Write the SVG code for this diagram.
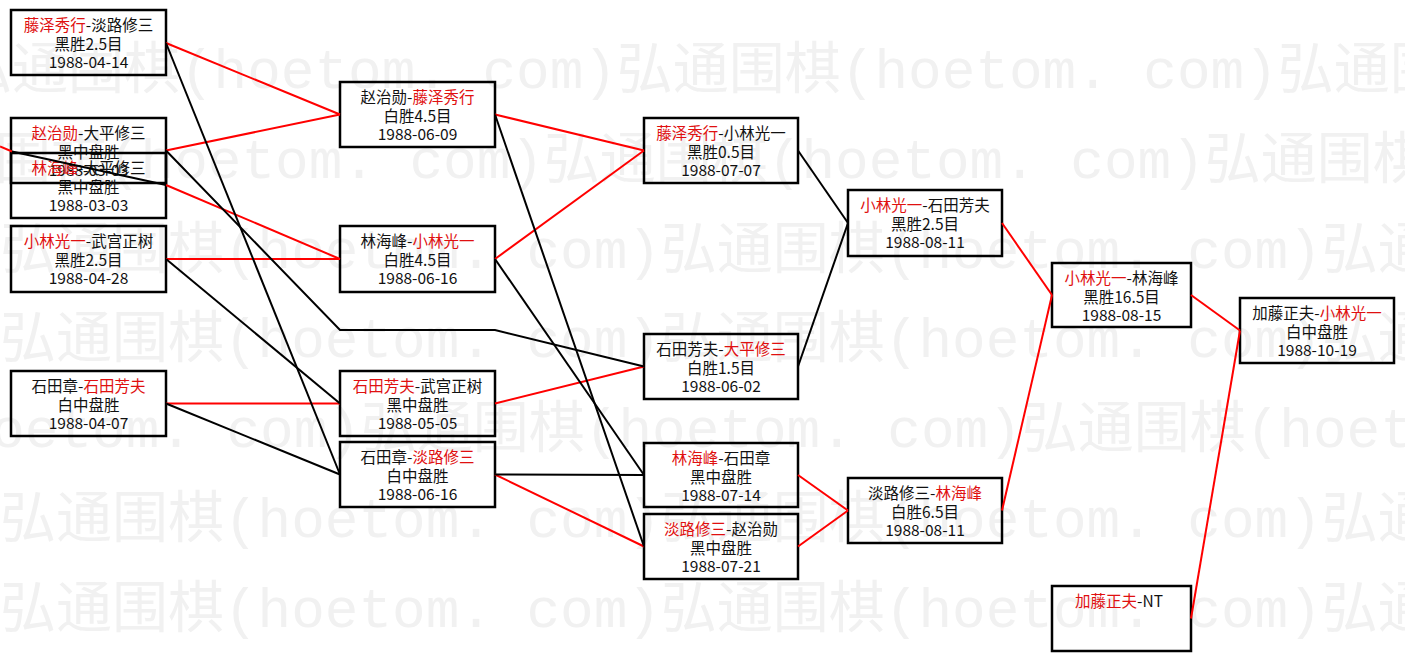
<svg xmlns="http://www.w3.org/2000/svg" width="1405" height="661" viewBox="0 0 1405 661">
<style>
.wm{font-family:"Liberation Mono","Noto Sans CJK SC",monospace;font-size:56px;fill:#f1f1f1}
.box{fill:none;stroke:#000;stroke-width:2.5}
.t{font-family:"Noto Sans CJK SC","Noto Sans",sans-serif;font-size:15.5px;fill:#111;text-anchor:middle}
.r{fill:#e01010}
.cr{fill:none;stroke:#ff0000;stroke-width:2}
.cb{fill:none;stroke:#000;stroke-width:2}
</style>
<rect x="0" y="0" width="1405" height="661" fill="#fff"/>
<g id="watermark">
<text class="wm" x="-44" y="88">弘通围棋(hoetom. com)弘通围棋(hoetom. com)弘通围棋(hoetom. com)</text>
<text class="wm" x="-117" y="178">弘通围棋(hoetom. com)弘通围棋(hoetom. com)弘通围棋(hoetom. com)</text>
<text class="wm" x="0" y="268">弘通围棋(hoetom. com)弘通围棋(hoetom. com)弘通围棋(hoetom. com)</text>
<text class="wm" x="0" y="357">弘通围棋(hoetom. com)弘通围棋(hoetom. com)弘通围棋(hoetom. com)</text>
<text class="wm" x="-300" y="447">弘通围棋(hoetom. com)弘通围棋(hoetom. com)弘通围棋(hoetom. com)</text>
<text class="wm" x="0" y="537">弘通围棋(hoetom. com)弘通围棋(hoetom. com)弘通围棋(hoetom. com)</text>
<text class="wm" x="0" y="627">弘通围棋(hoetom. com)弘通围棋(hoetom. com)弘通围棋(hoetom. com)</text>
</g>
<g id="nodeA"><rect class="box" x="11" y="10" width="155" height="65"/>
<text class="t" x="88.5" y="31"><tspan class="r">藤泽秀行</tspan>-淡路修三</text>
<text class="t" x="88.5" y="50">黑胜2.5目</text>
<text class="t" x="88.5" y="68">1988-04-14</text></g>
<g id="nodeB"><rect class="box" x="11" y="118" width="155" height="65"/>
<text class="t" x="88.5" y="139"><tspan class="r">赵治勋</tspan>-大平修三</text>
<text class="t" x="88.5" y="158">黑中盘胜</text>
<text class="t" x="88.5" y="176">1988-03-03</text></g>
<g id="nodeC"><rect class="box" x="11" y="153" width="155" height="65"/>
<text class="t" x="88.5" y="174"><tspan class="r">林海峰</tspan>-大平修三</text>
<text class="t" x="88.5" y="193">黑中盘胜</text>
<text class="t" x="88.5" y="211">1988-03-03</text></g>
<g id="nodeD"><rect class="box" x="11" y="226" width="155" height="66"/>
<text class="t" x="88.5" y="247"><tspan class="r">小林光一</tspan>-武宫正树</text>
<text class="t" x="88.5" y="266">黑胜2.5目</text>
<text class="t" x="88.5" y="284">1988-04-28</text></g>
<g id="nodeE"><rect class="box" x="11" y="371" width="155" height="65"/>
<text class="t" x="88.5" y="392">石田章-<tspan class="r">石田芳夫</tspan></text>
<text class="t" x="88.5" y="411">白中盘胜</text>
<text class="t" x="88.5" y="429">1988-04-07</text></g>
<g id="nodeF"><rect class="box" x="340" y="82" width="155" height="65"/>
<text class="t" x="417.5" y="103">赵治勋-<tspan class="r">藤泽秀行</tspan></text>
<text class="t" x="417.5" y="122">白胜4.5目</text>
<text class="t" x="417.5" y="140">1988-06-09</text></g>
<g id="nodeG"><rect class="box" x="340" y="226" width="155" height="66"/>
<text class="t" x="417.5" y="247">林海峰-<tspan class="r">小林光一</tspan></text>
<text class="t" x="417.5" y="266">白胜4.5目</text>
<text class="t" x="417.5" y="284">1988-06-16</text></g>
<g id="nodeH"><rect class="box" x="340" y="371" width="155" height="65"/>
<text class="t" x="417.5" y="392"><tspan class="r">石田芳夫</tspan>-武宫正树</text>
<text class="t" x="417.5" y="411">黑中盘胜</text>
<text class="t" x="417.5" y="429">1988-05-05</text></g>
<g id="nodeI"><rect class="box" x="340" y="442" width="155" height="65"/>
<text class="t" x="417.5" y="463">石田章-<tspan class="r">淡路修三</tspan></text>
<text class="t" x="417.5" y="482">白中盘胜</text>
<text class="t" x="417.5" y="500">1988-06-16</text></g>
<g id="nodeJ"><rect class="box" x="644" y="118" width="154" height="65"/>
<text class="t" x="721" y="139"><tspan class="r">藤泽秀行</tspan>-小林光一</text>
<text class="t" x="721" y="158">黑胜0.5目</text>
<text class="t" x="721" y="176">1988-07-07</text></g>
<g id="nodeK"><rect class="box" x="644" y="334" width="154" height="65"/>
<text class="t" x="721" y="355">石田芳夫-<tspan class="r">大平修三</tspan></text>
<text class="t" x="721" y="374">白胜1.5目</text>
<text class="t" x="721" y="392">1988-06-02</text></g>
<g id="nodeL"><rect class="box" x="644" y="443" width="154" height="64"/>
<text class="t" x="721" y="464"><tspan class="r">林海峰</tspan>-石田章</text>
<text class="t" x="721" y="483">黑中盘胜</text>
<text class="t" x="721" y="501">1988-07-14</text></g>
<g id="nodeM"><rect class="box" x="644" y="514" width="154" height="65"/>
<text class="t" x="721" y="535"><tspan class="r">淡路修三</tspan>-赵治勋</text>
<text class="t" x="721" y="554">黑中盘胜</text>
<text class="t" x="721" y="572">1988-07-21</text></g>
<g id="nodeN"><rect class="box" x="848" y="190" width="154" height="66"/>
<text class="t" x="925" y="211"><tspan class="r">小林光一</tspan>-石田芳夫</text>
<text class="t" x="925" y="230">黑胜2.5目</text>
<text class="t" x="925" y="248">1988-08-11</text></g>
<g id="nodeO"><rect class="box" x="848" y="478" width="154" height="65"/>
<text class="t" x="925" y="499">淡路修三-<tspan class="r">林海峰</tspan></text>
<text class="t" x="925" y="518">白胜6.5目</text>
<text class="t" x="925" y="536">1988-08-11</text></g>
<g id="nodeP"><rect class="box" x="1052" y="263" width="139" height="64"/>
<text class="t" x="1121.5" y="284"><tspan class="r">小林光一</tspan>-林海峰</text>
<text class="t" x="1121.5" y="303">黑胜16.5目</text>
<text class="t" x="1121.5" y="321">1988-08-15</text></g>
<g id="nodeQ"><rect class="box" x="1052" y="586" width="139" height="65"/>
<text class="t" x="1119" y="607"><tspan class="r">加藤正夫</tspan>-NT</text></g>
<g id="nodeR"><rect class="box" x="1240" y="298" width="154" height="65"/>
<text class="t" x="1317" y="319">加藤正夫-<tspan class="r">小林光一</tspan></text>
<text class="t" x="1317" y="338">白中盘胜</text>
<text class="t" x="1317" y="356">1988-10-19</text></g>
<g id="connectors">
<line class="cr" x1="166" y1="43" x2="340" y2="114.5"/>
<line class="cr" x1="166" y1="150.5" x2="340" y2="114.5"/>
<line class="cr" x1="0" y1="146.5" x2="12" y2="151.5"/>
<line class="cr" x1="166" y1="185" x2="340" y2="259"/>
<line class="cr" x1="166" y1="259" x2="340" y2="259"/>
<line class="cr" x1="166" y1="403.5" x2="340" y2="403.5"/>
<line class="cr" x1="495" y1="114.5" x2="644" y2="150.5"/>
<line class="cr" x1="495" y1="259" x2="644" y2="150.5"/>
<line class="cr" x1="495" y1="403.5" x2="644" y2="366.5"/>
<line class="cr" x1="495" y1="474.5" x2="644" y2="546.5"/>
<line class="cr" x1="798" y1="475" x2="848" y2="510.5"/>
<line class="cr" x1="798" y1="546.5" x2="848" y2="510.5"/>
<line class="cr" x1="1002" y1="223" x2="1052" y2="295"/>
<line class="cr" x1="1002" y1="510.5" x2="1052" y2="295"/>
<line class="cr" x1="1191" y1="295" x2="1240" y2="330.5"/>
<line class="cr" x1="1191" y1="618.5" x2="1240" y2="330.5"/>
<line class="cb" x1="166" y1="43" x2="340" y2="474.5"/>
<polyline class="cb" points="166,150.5 340,330 495,330 644,366.5"/>
<line class="cb" x1="12" y1="151.5" x2="166" y2="185"/>
<line class="cb" x1="166" y1="259" x2="340" y2="403.5"/>
<line class="cb" x1="166" y1="403.5" x2="340" y2="474.5"/>
<line class="cb" x1="495" y1="114.5" x2="644" y2="546.5"/>
<line class="cb" x1="495" y1="259" x2="644" y2="475"/>
<line class="cb" x1="495" y1="474.5" x2="644" y2="475"/>
<line class="cb" x1="798" y1="150.5" x2="848" y2="223"/>
<line class="cb" x1="798" y1="366.5" x2="848" y2="223"/>
</g>
</svg>
